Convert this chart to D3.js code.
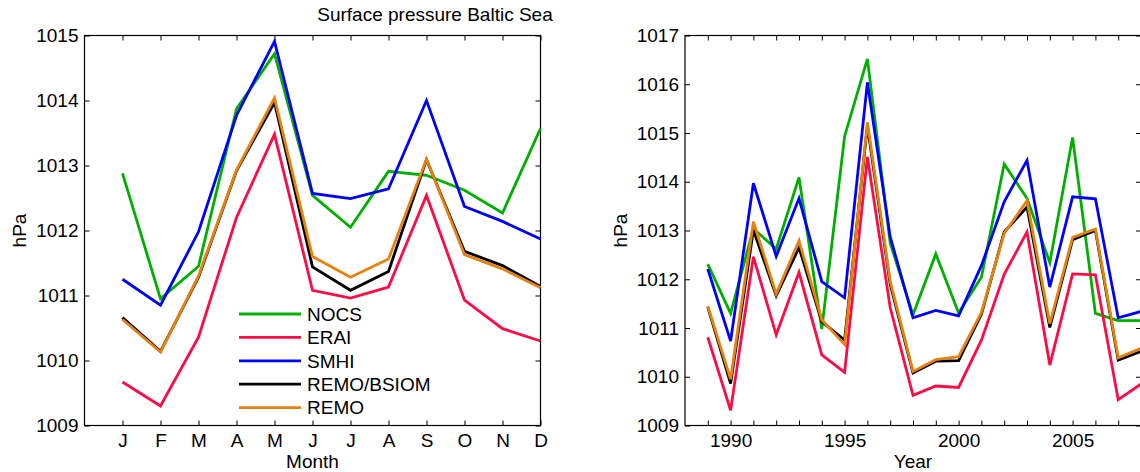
<!DOCTYPE html>
<html>
<head>
<meta charset="utf-8">
<script src="https://cdn.jsdelivr.net/npm/d3@7"></script>
<style>
  html, body { margin: 0; padding: 0; background: #fff; }
  svg { display: block; }
  text { font-family: "Liberation Sans", Arial, Helvetica, sans-serif; fill: #000; }
</style>
</head>
<body>
<svg id="chart" width="1140" height="472"></svg>
<script>
// ---- Data -------------------------------------------------------------
const seriesNames = ["NOCS", "ERAI", "SMHI", "REMO/BSIOM", "REMO"];
const seriesColors = ["#00b000", "#ff0a45", "#0000ff", "#000000", "#e8820e"];

// Monthly climatology (hPa), Jan..Dec
const monthLabels = ["J", "F", "M", "A", "M", "J", "J", "A", "S", "O", "N", "D"];
const nocsMonthly      = [1012.88, 1010.95, 1011.45, 1013.87, 1014.72, 1012.54, 1012.05, 1012.91, 1012.85, 1012.62, 1012.27, 1013.57];
const eraiMonthly      = [1009.67, 1009.30, 1010.36, 1012.20, 1013.48, 1011.08, 1010.96, 1011.13, 1012.54, 1010.93, 1010.49, 1010.30];
const smhiMonthly      = [1011.25, 1010.85, 1011.98, 1013.77, 1014.91, 1012.57, 1012.49, 1012.64, 1014.00, 1012.37, 1012.14, 1011.87];
const remoBsiomMonthly = [1010.66, 1010.14, 1011.28, 1012.92, 1013.97, 1011.44, 1011.08, 1011.37, 1013.09, 1011.68, 1011.46, 1011.14];
const remoMonthly      = [1010.63, 1010.13, 1011.30, 1012.93, 1014.04, 1011.60, 1011.28, 1011.56, 1013.10, 1011.63, 1011.41, 1011.12];

// Annual means (hPa), 1989..2008
const years = [1989, 1990, 1991, 1992, 1993, 1994, 1995, 1996, 1997, 1998, 1999, 2000, 2001, 2002, 2003, 2004, 2005, 2006, 2007, 2008];
const nocsAnnual      = [1012.31, 1011.30, 1013.04, 1012.62, 1014.09, 1010.98, 1014.93, 1016.52, 1012.74, 1011.27, 1012.52, 1011.31, 1012.04, 1014.36, 1013.66, 1012.34, 1014.91, 1011.30, 1011.15, 1011.15];
const eraiAnnual      = [1010.81, 1009.31, 1012.46, 1010.86, 1012.14, 1010.45, 1010.09, 1014.51, 1011.42, 1009.62, 1009.81, 1009.78, 1010.75, 1012.10, 1012.97, 1010.24, 1012.11, 1012.09, 1009.53, 1009.85];
const smhiAnnual      = [1012.21, 1010.73, 1013.97, 1012.47, 1013.66, 1011.95, 1011.62, 1016.04, 1012.87, 1011.21, 1011.36, 1011.25, 1012.28, 1013.59, 1014.44, 1011.84, 1013.69, 1013.65, 1011.21, 1011.34];
const remoBsiomAnnual = [1011.43, 1009.86, 1013.01, 1011.66, 1012.65, 1011.13, 1010.75, 1015.15, 1011.90, 1010.08, 1010.32, 1010.33, 1011.28, 1012.97, 1013.48, 1011.01, 1012.81, 1013.00, 1010.34, 1010.52];
const remoAnnual      = [1011.45, 1009.95, 1013.18, 1011.70, 1012.79, 1011.17, 1010.66, 1015.22, 1011.96, 1010.11, 1010.35, 1010.41, 1011.32, 1012.94, 1013.61, 1011.09, 1012.86, 1013.03, 1010.39, 1010.58];

const yearTickLabels = [1990, 1995, 2000, 2005];

const monthlySeries = [nocsMonthly, eraiMonthly, smhiMonthly, remoBsiomMonthly, remoMonthly];
const annualSeries  = [nocsAnnual, eraiAnnual, smhiAnnual, remoBsiomAnnual, remoAnnual];

// ---- Layout -----------------------------------------------------------
const svg = d3.select("#chart");
const FONT = 19;
const TICK = 5;
const LINE_W = 2.8;

// Draws one boxed panel with inward ticks on all four sides.
function panel(opts) {
  const { x0, x1, y0, y1, xDomain, yDomain, xTicks, xLabelFmt, yTicks, xTitle } = opts;
  const x = d3.scaleLinear().domain(xDomain).range([x0, x1]);
  const y = d3.scaleLinear().domain(yDomain).range([y1, y0]);
  const g = svg.append("g");

  const styleAxis = sel => {
    sel.select(".domain").remove();
    sel.selectAll(".tick line").attr("stroke", "#000").attr("stroke-width", 1);
    sel.selectAll(".tick text").attr("font-size", FONT).attr("font-family", null).attr("fill", "#000");
  };

  // bottom
  g.append("g").attr("transform", `translate(0,${y1})`)
    .call(d3.axisBottom(x).tickValues(xTicks).tickFormat(xLabelFmt)
      .tickSizeInner(-TICK).tickSizeOuter(0).tickPadding(8))
    .call(styleAxis);
  // top
  g.append("g").attr("transform", `translate(0,${y0})`)
    .call(d3.axisTop(x).tickValues(xTicks).tickFormat("")
      .tickSizeInner(-TICK).tickSizeOuter(0))
    .call(styleAxis);
  // left
  g.append("g").attr("transform", `translate(${x0},0)`)
    .call(d3.axisLeft(y).tickValues(yTicks).tickFormat(d3.format("d"))
      .tickSizeInner(-TICK).tickSizeOuter(0).tickPadding(6))
    .call(styleAxis);
  // right
  g.append("g").attr("transform", `translate(${x1},0)`)
    .call(d3.axisRight(y).tickValues(yTicks).tickFormat("")
      .tickSizeInner(-TICK).tickSizeOuter(0))
    .call(styleAxis);

  // frame
  g.append("rect")
    .attr("x", x0).attr("y", y0)
    .attr("width", x1 - x0).attr("height", y1 - y0)
    .attr("fill", "none").attr("stroke", "#000").attr("stroke-width", 1.2);

  // axis titles
  g.append("text")
    .attr("x", (x0 + x1) / 2).attr("y", 467.5)
    .attr("text-anchor", "middle").attr("font-size", FONT)
    .text(xTitle);
  g.append("text")
    .attr("transform", `translate(${x0 - 58.5},${(y0 + y1) / 2}) rotate(-90)`)
    .attr("text-anchor", "middle").attr("font-size", FONT)
    .text("hPa");

  return { g, x, y };
}

// ---- Left: monthly cycle ----------------------------------------------
const left = panel({
  x0: 84.5, x1: 540.5, y0: 35.5, y1: 425.5,
  xDomain: [0, 12], yDomain: [1009, 1015],
  xTicks: d3.range(1, 13),
  xLabelFmt: d => monthLabels[d - 1],
  yTicks: d3.range(1009, 1016),
  xTitle: "Month"
});

const monthLine = d3.line()
  .x((d, i) => left.x(i + 1))
  .y(d => left.y(d));

monthlySeries.forEach((vals, k) => {
  left.g.append("path")
    .attr("d", monthLine(vals))
    .attr("fill", "none")
    .attr("stroke", seriesColors[k])
    .attr("stroke-width", LINE_W);
});

// legend
const legend = left.g.append("g");
seriesNames.forEach((name, k) => {
  const ly = 314 + k * 23.4;
  legend.append("line")
    .attr("x1", 239).attr("x2", 301)
    .attr("y1", ly).attr("y2", ly)
    .attr("stroke", seriesColors[k]).attr("stroke-width", LINE_W);
  legend.append("text")
    .attr("x", 307).attr("y", ly).attr("dy", "0.36em")
    .attr("font-size", FONT)
    .text(name);
});

// ---- Right: annual means ----------------------------------------------
const right = panel({
  x0: 685, x1: 1141, y0: 35.5, y1: 425.5,
  xDomain: [1988, 2008], yDomain: [1009, 1017],
  xTicks: d3.range(1989, 2009),
  xLabelFmt: d => yearTickLabels.includes(d) ? String(d) : "",
  yTicks: d3.range(1009, 1018),
  xTitle: "Year"
});

const yearLine = d3.line()
  .x((d, i) => right.x(years[i]))
  .y(d => right.y(d));

annualSeries.forEach((vals, k) => {
  right.g.append("path")
    .attr("d", yearLine(vals))
    .attr("fill", "none")
    .attr("stroke", seriesColors[k])
    .attr("stroke-width", LINE_W);
});

// ---- Title ------------------------------------------------------------
svg.append("text")
  .attr("x", 435).attr("y", 21)
  .attr("text-anchor", "middle")
  .attr("font-size", FONT)
  .text("Surface pressure Baltic Sea");
</script>
</body>
</html>
